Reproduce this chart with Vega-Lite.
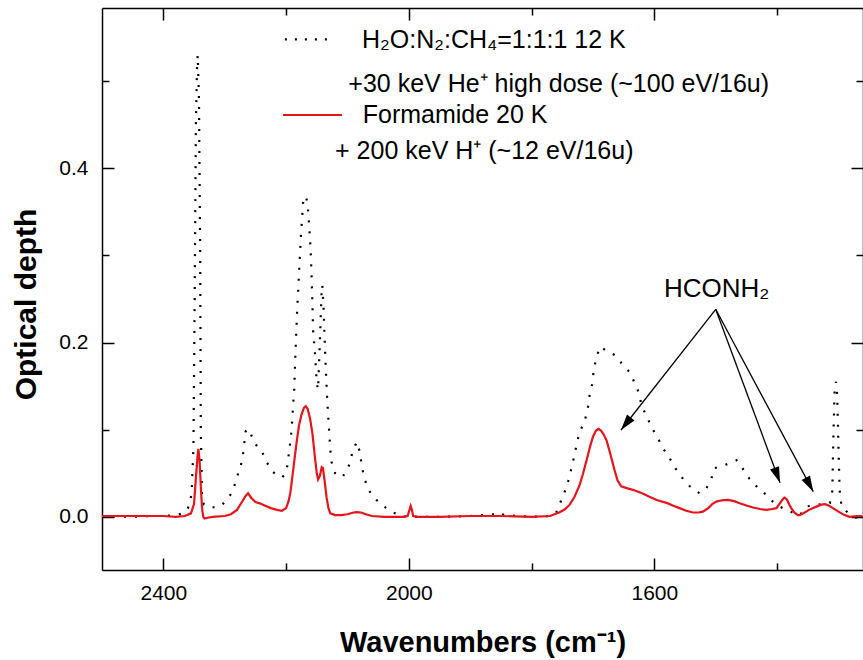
{
  "$schema": "https://vega.github.io/schema/vega-lite/v6.json",
  "width": 761,
  "height": 562,
  "autosize": {"type": "none"},
  "padding": {"left": 102, "top": 8, "right": 0, "bottom": 90},
  "background": "white",
  "config": {
    "view": {"stroke": null},
    "font": "Liberation Sans",
    "axis": {
      "domainColor": "black", "tickColor": "black", "domainWidth": 1.5, "tickWidth": 1.5,
      "labelColor": "black", "titleColor": "black", "grid": false,
      "labelFont": "Liberation Sans", "titleFont": "Liberation Sans"
    }
  },
  "datasets": {
    "one": [{"id": 1}],
    "mix": [
      {"wn": 2500, "od": 0.001}, {"wn": 2450, "od": 0.0}, {"wn": 2420, "od": 0.001}, {"wn": 2400, "od": 0.001},
      {"wn": 2380, "od": 0.002}, {"wn": 2368, "od": 0.004}, {"wn": 2360, "od": 0.01}, {"wn": 2357, "od": 0.016},
      {"wn": 2354, "od": 0.027}, {"wn": 2351, "od": 0.08}, {"wn": 2349, "od": 0.25}, {"wn": 2347, "od": 0.45},
      {"wn": 2345, "od": 0.52}, {"wn": 2344, "od": 0.53}, {"wn": 2342, "od": 0.48}, {"wn": 2340, "od": 0.3},
      {"wn": 2339, "od": 0.1}, {"wn": 2337, "od": 0.023}, {"wn": 2334, "od": 0.014}, {"wn": 2328, "od": 0.0125},
      {"wn": 2320, "od": 0.011}, {"wn": 2312, "od": 0.011}, {"wn": 2304, "od": 0.014}, {"wn": 2297, "od": 0.0195},
      {"wn": 2290, "od": 0.026}, {"wn": 2286, "od": 0.031}, {"wn": 2281, "od": 0.044}, {"wn": 2274, "od": 0.058},
      {"wn": 2270, "od": 0.073}, {"wn": 2266, "od": 0.098}, {"wn": 2262, "od": 0.101}, {"wn": 2259, "od": 0.098},
      {"wn": 2252, "od": 0.085}, {"wn": 2240, "od": 0.076}, {"wn": 2232, "od": 0.063}, {"wn": 2222, "od": 0.052},
      {"wn": 2214, "od": 0.047}, {"wn": 2206, "od": 0.0455}, {"wn": 2201, "od": 0.05}, {"wn": 2198, "od": 0.0585},
      {"wn": 2194, "od": 0.081}, {"wn": 2191, "od": 0.1}, {"wn": 2188.5, "od": 0.13}, {"wn": 2187, "od": 0.142},
      {"wn": 2185, "od": 0.184}, {"wn": 2182, "od": 0.237}, {"wn": 2179, "od": 0.279}, {"wn": 2176, "od": 0.321},
      {"wn": 2172, "od": 0.364}, {"wn": 2168, "od": 0.368}, {"wn": 2165, "od": 0.36}, {"wn": 2163, "od": 0.339},
      {"wn": 2160, "od": 0.306}, {"wn": 2158.5, "od": 0.276}, {"wn": 2157, "od": 0.241}, {"wn": 2156, "od": 0.214},
      {"wn": 2153, "od": 0.188}, {"wn": 2150, "od": 0.153}, {"wn": 2148, "od": 0.146}, {"wn": 2145, "od": 0.2},
      {"wn": 2142, "od": 0.262}, {"wn": 2141, "od": 0.266}, {"wn": 2139, "od": 0.24}, {"wn": 2136, "od": 0.18},
      {"wn": 2133, "od": 0.134}, {"wn": 2131, "od": 0.111}, {"wn": 2128, "od": 0.077}, {"wn": 2126, "od": 0.063},
      {"wn": 2120, "od": 0.05}, {"wn": 2114, "od": 0.046}, {"wn": 2108, "od": 0.046}, {"wn": 2102, "od": 0.052},
      {"wn": 2097, "od": 0.06}, {"wn": 2092, "od": 0.074}, {"wn": 2085, "od": 0.086}, {"wn": 2080, "od": 0.075},
      {"wn": 2077, "od": 0.06}, {"wn": 2073, "od": 0.0455}, {"wn": 2066, "od": 0.031}, {"wn": 2053, "od": 0.0195},
      {"wn": 2042, "od": 0.0126}, {"wn": 2026, "od": 0.005}, {"wn": 2012, "od": 0.001}, {"wn": 2000, "od": 0.0},
      {"wn": 1950, "od": 0.0}, {"wn": 1900, "od": 0.001}, {"wn": 1860, "od": 0.003}, {"wn": 1852, "od": 0.005},
      {"wn": 1845, "od": 0.002}, {"wn": 1820, "od": 0.001}, {"wn": 1800, "od": 0.0}, {"wn": 1770, "od": 0.001},
      {"wn": 1760, "od": 0.005}, {"wn": 1754, "od": 0.015}, {"wn": 1746, "od": 0.029}, {"wn": 1740, "od": 0.042},
      {"wn": 1735, "od": 0.056}, {"wn": 1730, "od": 0.071}, {"wn": 1726, "od": 0.086}, {"wn": 1721, "od": 0.098},
      {"wn": 1713, "od": 0.111}, {"wn": 1708, "od": 0.1265}, {"wn": 1705, "od": 0.142}, {"wn": 1701, "od": 0.153},
      {"wn": 1699, "od": 0.167}, {"wn": 1695, "od": 0.181}, {"wn": 1689, "od": 0.195}, {"wn": 1678, "od": 0.191},
      {"wn": 1663, "od": 0.185}, {"wn": 1651, "od": 0.174}, {"wn": 1639, "od": 0.165}, {"wn": 1633, "od": 0.155},
      {"wn": 1625, "od": 0.142}, {"wn": 1621, "od": 0.128}, {"wn": 1613, "od": 0.116}, {"wn": 1603, "od": 0.101},
      {"wn": 1594, "od": 0.09}, {"wn": 1586, "od": 0.079}, {"wn": 1574, "od": 0.066}, {"wn": 1565, "od": 0.055},
      {"wn": 1556, "od": 0.046}, {"wn": 1547, "od": 0.038}, {"wn": 1537, "od": 0.032}, {"wn": 1526, "od": 0.027},
      {"wn": 1515, "od": 0.033}, {"wn": 1508, "od": 0.042}, {"wn": 1502, "od": 0.056}, {"wn": 1491, "od": 0.058},
      {"wn": 1477, "od": 0.0615}, {"wn": 1466, "od": 0.065}, {"wn": 1458, "od": 0.058}, {"wn": 1450, "od": 0.048},
      {"wn": 1439, "od": 0.039}, {"wn": 1428, "od": 0.031}, {"wn": 1417, "od": 0.025}, {"wn": 1407, "od": 0.0175},
      {"wn": 1396, "od": 0.012}, {"wn": 1385, "od": 0.008}, {"wn": 1375, "od": 0.005}, {"wn": 1363, "od": 0.002},
      {"wn": 1352, "od": 0.012}, {"wn": 1340, "od": 0.013}, {"wn": 1325, "od": 0.015}, {"wn": 1314, "od": 0.016},
      {"wn": 1310, "od": 0.03}, {"wn": 1308, "od": 0.1}, {"wn": 1306, "od": 0.15}, {"wn": 1304, "od": 0.155},
      {"wn": 1302, "od": 0.14}, {"wn": 1300, "od": 0.08}, {"wn": 1298, "od": 0.03}, {"wn": 1295, "od": 0.012},
      {"wn": 1285, "od": 0.005}, {"wn": 1271, "od": -0.001}, {"wn": 1261, "od": 0.0}
    ],
    "formamide": [
      {"wn": 2500, "od": 0.001}, {"wn": 2450, "od": 0.001}, {"wn": 2400, "od": 0.001}, {"wn": 2380, "od": 0.0},
      {"wn": 2365, "od": 0.001}, {"wn": 2355, "od": 0.004}, {"wn": 2350, "od": 0.015}, {"wn": 2347, "od": 0.045},
      {"wn": 2344, "od": 0.072}, {"wn": 2343, "od": 0.078}, {"wn": 2341, "od": 0.065}, {"wn": 2339, "od": 0.035},
      {"wn": 2337, "od": 0.01}, {"wn": 2335, "od": 0.0}, {"wn": 2333, "od": -0.002}, {"wn": 2328, "od": -0.001},
      {"wn": 2320, "od": 0.0}, {"wn": 2300, "od": 0.001}, {"wn": 2290, "od": 0.003}, {"wn": 2280, "od": 0.008},
      {"wn": 2272, "od": 0.017}, {"wn": 2266, "od": 0.024}, {"wn": 2262, "od": 0.027}, {"wn": 2257, "od": 0.022},
      {"wn": 2250, "od": 0.017}, {"wn": 2243, "od": 0.0155}, {"wn": 2235, "od": 0.013}, {"wn": 2225, "od": 0.01},
      {"wn": 2215, "od": 0.008}, {"wn": 2207, "od": 0.007}, {"wn": 2200, "od": 0.01}, {"wn": 2196, "od": 0.018},
      {"wn": 2193, "od": 0.028}, {"wn": 2190, "od": 0.045}, {"wn": 2186, "od": 0.068}, {"wn": 2183, "od": 0.085},
      {"wn": 2179, "od": 0.105}, {"wn": 2175, "od": 0.117}, {"wn": 2171, "od": 0.125}, {"wn": 2168, "od": 0.127},
      {"wn": 2165, "od": 0.124}, {"wn": 2161, "od": 0.113}, {"wn": 2157, "od": 0.095}, {"wn": 2153, "od": 0.068},
      {"wn": 2150, "od": 0.05}, {"wn": 2148, "od": 0.043}, {"wn": 2145, "od": 0.047}, {"wn": 2142, "od": 0.057},
      {"wn": 2140, "od": 0.056}, {"wn": 2137, "od": 0.04}, {"wn": 2134, "od": 0.022}, {"wn": 2131, "od": 0.01},
      {"wn": 2128, "od": 0.004}, {"wn": 2120, "od": 0.002}, {"wn": 2110, "od": 0.002}, {"wn": 2100, "od": 0.003},
      {"wn": 2090, "od": 0.005}, {"wn": 2085, "od": 0.0055}, {"wn": 2078, "od": 0.005}, {"wn": 2070, "od": 0.003},
      {"wn": 2060, "od": 0.001}, {"wn": 2040, "od": 0.0}, {"wn": 2010, "od": 0.0}, {"wn": 2002, "od": 0.001},
      {"wn": 1999, "od": 0.008}, {"wn": 1997, "od": 0.0125}, {"wn": 1995, "od": 0.008}, {"wn": 1993, "od": 0.001},
      {"wn": 1985, "od": 0.0}, {"wn": 1950, "od": 0.0}, {"wn": 1900, "od": 0.001}, {"wn": 1850, "od": 0.001},
      {"wn": 1800, "od": 0.0}, {"wn": 1770, "od": 0.001}, {"wn": 1755, "od": 0.005}, {"wn": 1745, "od": 0.009},
      {"wn": 1738, "od": 0.014}, {"wn": 1730, "od": 0.023}, {"wn": 1722, "od": 0.036}, {"wn": 1716, "od": 0.05},
      {"wn": 1710, "od": 0.066}, {"wn": 1705, "od": 0.08}, {"wn": 1700, "od": 0.092}, {"wn": 1695, "od": 0.099},
      {"wn": 1691, "od": 0.101}, {"wn": 1687, "od": 0.099}, {"wn": 1683, "od": 0.095}, {"wn": 1678, "od": 0.088},
      {"wn": 1672, "od": 0.073}, {"wn": 1665, "od": 0.054}, {"wn": 1660, "od": 0.042}, {"wn": 1654, "od": 0.035},
      {"wn": 1645, "od": 0.033}, {"wn": 1635, "od": 0.031}, {"wn": 1620, "od": 0.027}, {"wn": 1608, "od": 0.023},
      {"wn": 1595, "od": 0.019}, {"wn": 1580, "od": 0.016}, {"wn": 1570, "od": 0.013}, {"wn": 1559, "od": 0.01},
      {"wn": 1548, "od": 0.007}, {"wn": 1537, "od": 0.005}, {"wn": 1528, "od": 0.005}, {"wn": 1521, "od": 0.006},
      {"wn": 1512, "od": 0.01}, {"wn": 1505, "od": 0.015}, {"wn": 1499, "od": 0.0175}, {"wn": 1490, "od": 0.019},
      {"wn": 1480, "od": 0.0195}, {"wn": 1470, "od": 0.018}, {"wn": 1461, "od": 0.0157}, {"wn": 1450, "od": 0.013},
      {"wn": 1439, "od": 0.0107}, {"wn": 1428, "od": 0.009}, {"wn": 1417, "od": 0.008}, {"wn": 1408, "od": 0.009},
      {"wn": 1401, "od": 0.01}, {"wn": 1395, "od": 0.016}, {"wn": 1390, "od": 0.021}, {"wn": 1388, "od": 0.022},
      {"wn": 1384, "od": 0.02}, {"wn": 1380, "od": 0.014}, {"wn": 1377, "od": 0.01}, {"wn": 1372, "od": 0.005},
      {"wn": 1366, "od": 0.002}, {"wn": 1363, "od": 0.002}, {"wn": 1355, "od": 0.005}, {"wn": 1348, "od": 0.008},
      {"wn": 1342, "od": 0.01}, {"wn": 1335, "od": 0.012}, {"wn": 1328, "od": 0.014}, {"wn": 1322, "od": 0.0145},
      {"wn": 1316, "od": 0.013}, {"wn": 1309, "od": 0.01}, {"wn": 1300, "od": 0.006}, {"wn": 1290, "od": 0.002},
      {"wn": 1282, "od": 0.0}, {"wn": 1270, "od": 0.001}, {"wn": 1261, "od": 0.001}
    ]
  },
  "resolve": {"axis": {"x": "independent", "y": "independent"}},
  "layer": [
    {
      "data": {"name": "mix"},
      "mark": {"type": "line", "color": "black", "strokeWidth": 2.2, "strokeDash": [2, 9], "clip": true},
      "encoding": {
        "x": {
          "field": "wn", "type": "quantitative",
          "scale": {"domain": [1260, 2500], "reverse": true, "nice": false, "zero": false},
          "axis": {
            "orient": "bottom", "values": [2400, 2200, 2000, 1800, 1600, 1400], "format": "d",
            "labelExpr": "datum.value % 400 === 0 ? datum.label : ''",
            "tickSize": {"condition": {"test": "datum.value % 400 === 0", "value": -12}, "value": -7},
            "labelPadding": 24, "labelFontSize": 21,
            "title": "Wavenumbers (cm⁻¹)", "titleFontSize": 29, "titleFontWeight": "bold", "titlePadding": 25
          }
        },
        "y": {
          "field": "od", "type": "quantitative",
          "scale": {"domain": [-0.061, 0.584], "nice": false, "zero": false},
          "axis": {
            "orient": "left", "values": [0, 0.1, 0.2, 0.3, 0.4, 0.5], "format": ".1f",
            "labelExpr": "abs(round(datum.value*10)) % 2 === 0 ? datum.label : ''",
            "tickSize": {"condition": {"test": "abs(round(datum.value*10)) % 2 === 0", "value": -12}, "value": -7},
            "labelPadding": 26, "labelFontSize": 21,
            "title": "Optical depth", "titleFontSize": 30, "titleFontWeight": "bold", "titlePadding": 17, "titleY": 296
          }
        }
      }
    },
    {
      "data": {"name": "formamide"},
      "mark": {"type": "line", "color": "#e8141c", "strokeWidth": 2.2, "clip": true},
      "encoding": {
        "x": {
          "field": "wn", "type": "quantitative",
          "axis": {
            "orient": "top", "values": [2400, 2200, 2000, 1800, 1600, 1400], "labels": false, "title": null,
            "tickSize": {"condition": {"test": "datum.value % 400 === 0", "value": -12}, "value": -7}
          }
        },
        "y": {
          "field": "od", "type": "quantitative",
          "axis": {
            "orient": "right", "values": [0, 0.1, 0.2, 0.3, 0.4, 0.5], "labels": false, "title": null,
            "tickSize": {"condition": {"test": "abs(round(datum.value*10)) % 2 === 0", "value": -12}, "value": -7}
          }
        }
      }
    },
    {
      "data": {"name": "one"},
      "mark": {"type": "rule", "color": "black", "strokeWidth": 2.2, "strokeDash": [2, 8]},
      "encoding": {"x": {"datum": 2202, "axis": null}, "x2": {"datum": 2123}, "y": {"datum": 0.548, "axis": null}}
    },
    {
      "data": {"name": "one"},
      "mark": {"type": "rule", "color": "#e8141c", "strokeWidth": 2.2},
      "encoding": {"x": {"datum": 2205, "axis": null}, "x2": {"datum": 2109}, "y": {"datum": 0.4612, "axis": null}}
    },
    {
      "data": {"name": "one"},
      "mark": {"type": "text", "align": "left", "baseline": "alphabetic", "fontSize": 25, "font": "Liberation Sans", "color": "black", "text": "H₂O:N₂:CH₄=1:1:1 12 K"},
      "encoding": {"x": {"datum": 2076.3, "axis": null}, "y": {"datum": 0.5384, "axis": null}}
    },
    {
      "data": {"name": "one"},
      "mark": {"type": "text", "align": "left", "baseline": "alphabetic", "fontSize": 25, "font": "Liberation Sans", "color": "black", "text": "+30 keV He⁺ high dose (~100 eV/16u)"},
      "encoding": {"x": {"datum": 2098.7, "axis": null}, "y": {"datum": 0.488, "axis": null}}
    },
    {
      "data": {"name": "one"},
      "mark": {"type": "text", "align": "left", "baseline": "alphabetic", "fontSize": 25, "font": "Liberation Sans", "color": "black", "text": "Formamide 20 K"},
      "encoding": {"x": {"datum": 2075.2, "axis": null}, "y": {"datum": 0.4524, "axis": null}}
    },
    {
      "data": {"name": "one"},
      "mark": {"type": "text", "align": "left", "baseline": "alphabetic", "fontSize": 25, "font": "Liberation Sans", "color": "black", "text": "+ 200 keV H⁺ (~12 eV/16u)"},
      "encoding": {"x": {"datum": 2120.3, "axis": null}, "y": {"datum": 0.4104, "axis": null}}
    },
    {
      "data": {"name": "one"},
      "mark": {"type": "text", "align": "left", "baseline": "alphabetic", "fontSize": 26, "font": "Liberation Sans", "color": "black", "text": "HCONH₂"},
      "encoding": {"x": {"datum": 1584.3, "axis": null}, "y": {"datum": 0.252, "axis": null}}
    },
    {
      "data": {"name": "one"},
      "mark": {"type": "rule", "color": "black", "strokeWidth": 1.3},
      "encoding": {"x": {"datum": 1500, "axis": null}, "x2": {"datum": 1654.3}, "y": {"datum": 0.2382, "axis": null}, "y2": {"datum": 0.0997}}
    },
    {
      "data": {"name": "one"},
      "mark": {"type": "rule", "color": "black", "strokeWidth": 1.3},
      "encoding": {"x": {"datum": 1500, "axis": null}, "x2": {"datum": 1395.2}, "y": {"datum": 0.2382, "axis": null}, "y2": {"datum": 0.0392}}
    },
    {
      "data": {"name": "one"},
      "mark": {"type": "rule", "color": "black", "strokeWidth": 1.3},
      "encoding": {"x": {"datum": 1500, "axis": null}, "x2": {"datum": 1341}, "y": {"datum": 0.2382, "axis": null}, "y2": {"datum": 0.0289}}
    },
    {
      "data": {"name": "one"},
      "mark": {"type": "point", "shape": "M0,0L0.3,1L-0.3,1Z", "size": 1000, "filled": true, "color": "black", "opacity": 1, "strokeWidth": 0, "angle": 218.1},
      "encoding": {"x": {"datum": 1654.3, "axis": null}, "y": {"datum": 0.0997, "axis": null}}
    },
    {
      "data": {"name": "one"},
      "mark": {"type": "point", "shape": "M0,0L0.3,1L-0.3,1Z", "size": 1000, "filled": true, "color": "black", "opacity": 1, "strokeWidth": 0, "angle": 159.7},
      "encoding": {"x": {"datum": 1395.2, "axis": null}, "y": {"datum": 0.0392, "axis": null}}
    },
    {
      "data": {"name": "one"},
      "mark": {"type": "point", "shape": "M0,0L0.3,1L-0.3,1Z", "size": 1000, "filled": true, "color": "black", "opacity": 1, "strokeWidth": 0, "angle": 151.8},
      "encoding": {"x": {"datum": 1341, "axis": null}, "y": {"datum": 0.0289, "axis": null}}
    }
  ]
}
